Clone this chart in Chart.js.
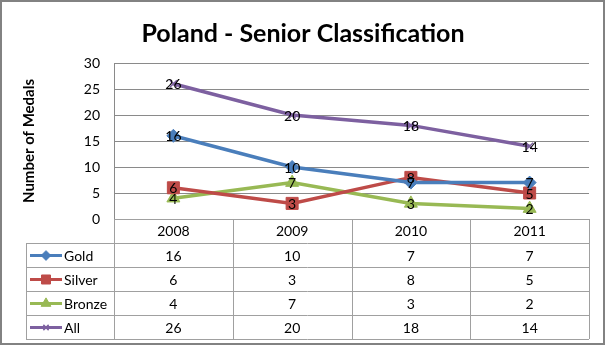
<!DOCTYPE html>
<html>
<head>
<meta charset="utf-8">
<script src="https://cdn.jsdelivr.net/npm/chart.js@4"></script>
<style>
  html, body { margin: 0; padding: 0; background: #fff; }
</style>
</head>
<body>
<canvas id="medals" width="606" height="346"></canvas>
<script>
// Medal counts per year
const years = ['2008', '2009', '2010', '2011'];
const gold = [16, 10, 7, 7];
const silver = [6, 3, 8, 5];
const bronze = [4, 7, 3, 2];
const all = [26, 20, 18, 14];
const seriesNames = ['Gold', 'Silver', 'Bronze', 'All'];

const FONT = 'Lato';
const colors = ['#4a7ebb', '#be4b48', '#98b954', '#7d60a0'];
const styles = ['rectRot', 'rect', 'triangle', 'crossRot'];
const radii = [6.5, 8.5, 7.5, 5];

function makeSet(i, data) {
  return {
    label: seriesNames[i],
    data: data,
    borderColor: colors[i],
    backgroundColor: colors[i],
    borderWidth: 3.5,
    pointStyle: styles[i],
    pointRadius: radii[i],
    pointBorderWidth: i === 3 ? 1.5 : 1,
    pointBorderColor: colors[i],
    pointBackgroundColor: colors[i],
    tension: 0
  };
}

// white background + outer frame
const frame = {
  id: 'frame',
  beforeDraw(chart) {
    const c = chart.ctx;
    c.save();
    c.fillStyle = '#fff';
    c.fillRect(0, 0, chart.width, chart.height);
    c.strokeStyle = '#828282';
    c.lineWidth = 2;
    c.strokeRect(1, 1, 603, 343);
    c.restore();
  }
};

// value labels centred on each point
const pointLabels = {
  id: 'pointLabels',
  afterDatasetsDraw(chart) {
    const c = chart.ctx;
    c.save();
    c.font = '14px ' + FONT;
    c.fillStyle = '#000';
    c.textAlign = 'center';
    c.textBaseline = 'middle';
    chart.data.datasets.forEach((ds, i) => {
      chart.getDatasetMeta(i).data.forEach((pt, j) => {
        c.fillText(String(ds.data[j]), pt.x, pt.y + 1);
      });
    });
    c.restore();
  }
};

// data table under the plot, with legend keys in the first column
const dataTable = {
  id: 'dataTable',
  afterDraw(chart) {
    const c = chart.ctx;
    const x = chart.scales.x;
    const area = chart.chartArea;
    const band = x.getPixelForValue(1) - x.getPixelForValue(0);
    const rowH = 24;
    const keyLeft = 26;
    const headTop = area.bottom;
    const bodyTop = x.bottom;
    const sets = chart.data.datasets;
    const bottom = bodyTop + rowH * sets.length;

    c.save();
    c.strokeStyle = '#a0a0a0';
    c.lineWidth = 1;
    c.beginPath();
    c.moveTo(area.left, headTop + 0.5);
    c.lineTo(area.right, headTop + 0.5);
    for (let r = 0; r <= sets.length; r++) {
      const y = Math.round(bodyTop + r * rowH) + 0.5;
      c.moveTo(keyLeft, y);
      c.lineTo(area.right, y);
    }
    c.moveTo(keyLeft + 0.5, bodyTop);
    c.lineTo(keyLeft + 0.5, bottom);
    for (let k = 0; k <= years.length; k++) {
      const xx = Math.round(x.getPixelForValue(0) - band / 2 + k * band) + 0.5;
      c.moveTo(xx, headTop);
      c.lineTo(xx, bottom);
    }
    c.stroke();

    c.font = '14px ' + FONT;
    c.textBaseline = 'middle';
    sets.forEach((ds, i) => {
      const cy = bodyTop + i * rowH + rowH / 2 + 0.5;
      // legend key
      c.strokeStyle = colors[i];
      c.fillStyle = colors[i];
      c.lineWidth = 3;
      c.beginPath();
      c.moveTo(30, cy);
      c.lineTo(62, cy);
      c.stroke();
      c.lineWidth = i === 3 ? 1.5 : 1;
      Chart.helpers.drawPoint(c, {
        pointStyle: styles[i], radius: radii[i] * 0.75, rotation: 0, borderWidth: c.lineWidth
      }, 46, cy);
      c.fillStyle = '#000';
      c.textAlign = 'left';
      c.fillText(ds.label, 64, cy + 1);
      c.textAlign = 'center';
      ds.data.forEach((v, j) => {
        c.fillText(String(v), x.getPixelForValue(j), cy + 1);
      });
    });
    c.restore();
  }
};

new Chart(document.getElementById('medals'), {
  type: 'line',
  data: {
    labels: years,
    datasets: [makeSet(0, gold), makeSet(1, silver), makeSet(2, bronze), makeSet(3, all)]
  },
  plugins: [frame, pointLabels, dataTable],
  options: {
    responsive: false,
    devicePixelRatio: 1,
    animation: false,
    layout: { padding: { left: 17, right: 17, top: 0, bottom: 103 } },
    plugins: {
      legend: { display: false },
      tooltip: { enabled: false },
      title: {
        display: true,
        text: 'Poland - Senior Classification',
        color: '#000',
        font: { family: FONT, size: 25, weight: 'bold' },
        padding: { top: 19, bottom: 14 }
      }
    },
    scales: {
      x: {
        offset: true,
        grid: { display: false, drawTicks: false },
        border: { display: false },
        ticks: {
          color: '#000',
          font: { family: FONT, size: 14 },
          padding: 4,
          maxRotation: 0,
          autoSkip: false
        },
        afterFit(scale) { scale.height = 24; }
      },
      y: {
        min: 0,
        max: 30,
        ticks: {
          stepSize: 5,
          color: '#000',
          font: { family: FONT, size: 14 },
          padding: 14
        },
        grid: { color: '#8a8a8a', lineWidth: 1, drawTicks: false },
        border: { color: '#8a8a8a', width: 1 },
        title: {
          display: true,
          text: 'Number of Medals',
          color: '#000',
          font: { family: FONT, size: 15, weight: 'bold' },
          padding: { top: 3, bottom: 0 }
        },
        afterFit(scale) { scale.width = 97; }
      }
    }
  }
});
</script>
</body>
</html>
